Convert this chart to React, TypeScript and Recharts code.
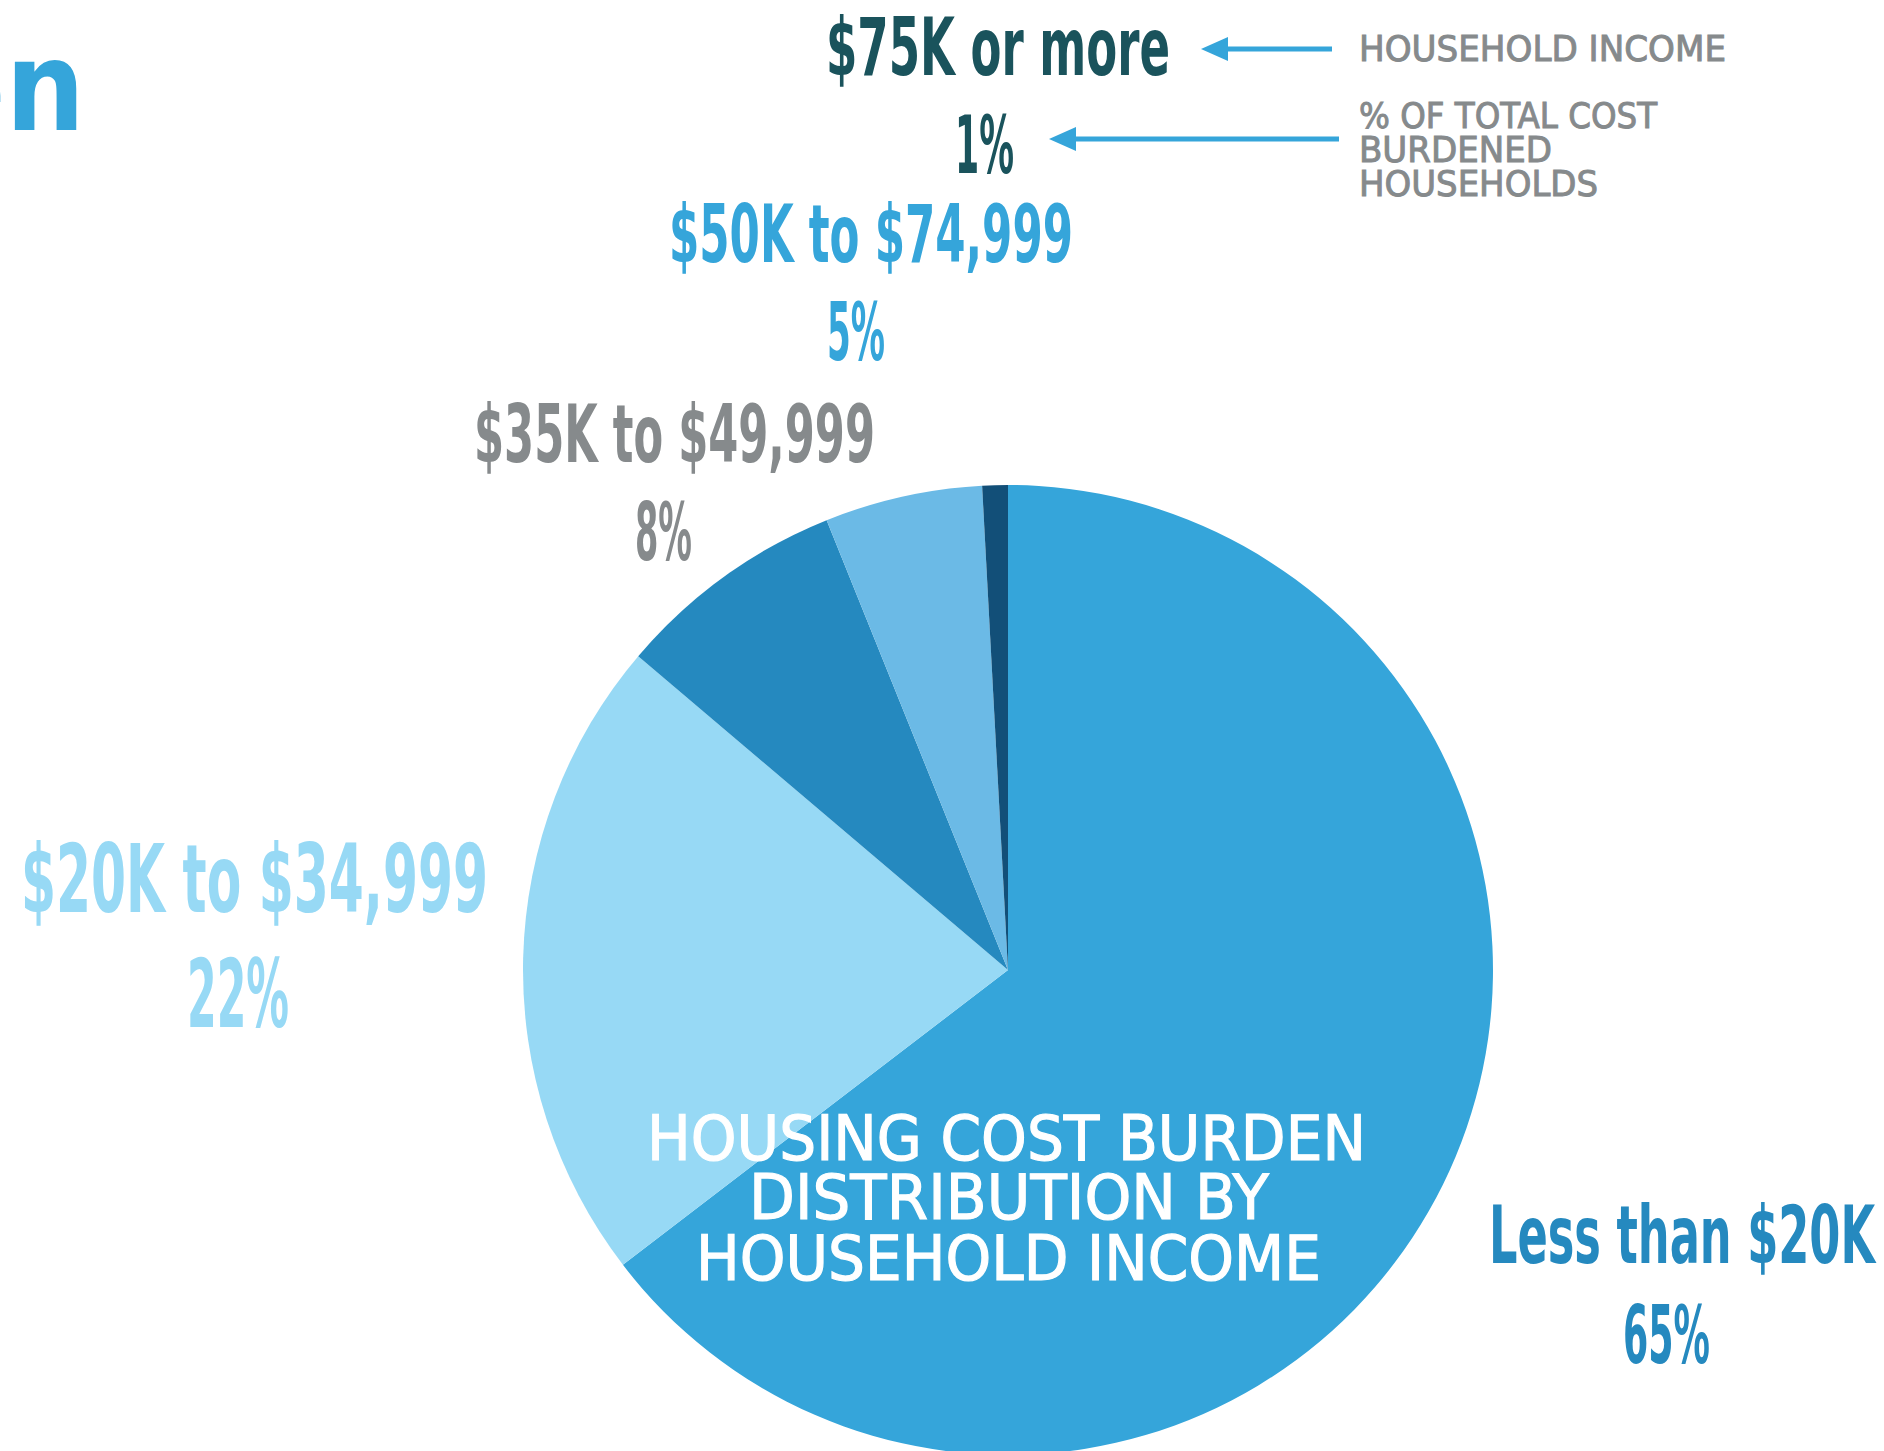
import React from 'react';
import { PieChart, Pie, Cell } from 'recharts';

// ---- data ----
const categories = ['Less than $20K', '$20K to $34,999', '$35K to $49,999', '$50K to $74,999', '$75K or more'];
const shares = [64.6, 21.6, 7.7, 5.25, 0.85];
const percentLabels = ['65%', '22%', '8%', '5%', '1%'];
const titleLines = ['HOUSING COST BURDEN', 'DISTRIBUTION BY', 'HOUSEHOLD INCOME'];
const legendIncome = ['HOUSEHOLD INCOME'];
const legendShare = ['% OF TOTAL COST', 'BURDENED', 'HOUSEHOLDS'];
const headingFragment = 'en';

// ---- styles ----
const sliceColors = ['#35A5DA', '#97D9F5', '#2589BF', '#6BBAE6', '#124F78'];
const labelColors = ['#2589BF', '#97D9F5', '#868A8C', '#35A5DA', '#1A535C'];
const GRAY = '#868A8C';
const ARROW = '#35A5DA';
const COND = '"DejaVu Sans Condensed", "DejaVu Sans", sans-serif';
const REG = '"DejaVu Sans", sans-serif';

// label placement per slice (left x, right x, baseline)
const labelLayout = [
  { name: [1489, 1875, 1263], pct: [1623, 1710, 1363], size: 80 },
  { name: [21, 488, 912], pct: [187, 289, 1027], size: 95 },
  { name: [474, 875, 462], pct: [635, 692, 560], size: 81 },
  { name: [669, 1073, 262], pct: [827, 885, 360], size: 81 },
  { name: [826, 1170, 75], pct: [955, 1014, 173], size: 80 },
];

const data = categories.map((name, i) => ({ name, value: shares[i], pct: percentLabels[i] }));

const W = 1884;
const H = 1451;
const CX = 1008;
const CY = 970;
const R = 485;

const renderLabel = (props: any) => {
  const i = props.index;
  const lay = labelLayout[i];
  const color = labelColors[i];
  return (
    <g key={`lbl-${i}`}>
      <text
        x={lay.name[0]}
        y={lay.name[2]}
        fill={color}
        fontFamily={COND}
        fontWeight="bold"
        fontSize={lay.size}
        textLength={lay.name[1] - lay.name[0]}
        lengthAdjust="spacingAndGlyphs"
      >
        {data[i].name}
      </text>
      <text
        x={lay.pct[0]}
        y={lay.pct[2]}
        fill={color}
        fontFamily={COND}
        fontWeight="bold"
        fontSize={lay.size}
        textLength={lay.pct[1] - lay.pct[0]}
        lengthAdjust="spacingAndGlyphs"
      >
        {data[i].pct}
      </text>
    </g>
  );
};

const Arrow = ({ tipX, endX, y }: { tipX: number; endX: number; y: number }) => (
  <g>
    <line x1={tipX + 20} y1={y} x2={endX} y2={y} stroke={ARROW} strokeWidth={5} />
    <polygon points={`${tipX},${y} ${tipX + 27},${y - 12} ${tipX + 27},${y + 12}`} fill={ARROW} />
  </g>
);

const titleLayout = [
  [647, 1366, 1160],
  [749, 1269, 1219],
  [696, 1321, 1280],
];
const shareLayout = [
  [1359, 1657, 128],
  [1359, 1552, 162],
  [1359, 1598, 196],
];

export default function App() {
  return (
    <div style={{ position: 'absolute', left: 0, top: 0, width: W, height: H, background: '#fff', overflow: 'hidden' }}>
      <PieChart width={W} height={H} margin={{ top: 0, right: 0, bottom: 0, left: 0 }}>
        <Pie
          data={data}
          dataKey="value"
          nameKey="name"
          cx={CX}
          cy={CY}
          outerRadius={R}
          innerRadius={0}
          startAngle={90}
          endAngle={-270}
          stroke="none"
          isAnimationActive={false}
          labelLine={false}
          label={renderLabel}
        >
          {data.map((d, i) => (
            <Cell key={d.name} fill={sliceColors[i]} stroke="none" />
          ))}
        </Pie>
      </PieChart>
      <svg width={W} height={H} style={{ position: 'absolute', left: 0, top: 0, pointerEvents: 'none' }}>
        <text x={85} y={130} textAnchor="end" fill="#35A5DA" fontFamily={COND} fontWeight="bold" fontSize={124}>
          {headingFragment}
        </text>
        <Arrow tipX={1201} endX={1332} y={49} />
        <Arrow tipX={1049} endX={1339} y={139} />
        <text x={1359} y={61} fill={GRAY} stroke={GRAY} strokeWidth={1} fontFamily={REG} fontSize={35} textLength={367} lengthAdjust="spacingAndGlyphs">
          {legendIncome[0]}
        </text>
        {legendShare.map((t, i) => (
          <text
            key={t}
            x={shareLayout[i][0]}
            y={shareLayout[i][2]}
            fill={GRAY}
            stroke={GRAY}
            strokeWidth={1}
            fontFamily={REG}
            fontSize={35}
            textLength={shareLayout[i][1] - shareLayout[i][0]}
            lengthAdjust="spacingAndGlyphs"
          >
            {t}
          </text>
        ))}
        {titleLines.map((t, i) => (
          <text
            key={t}
            x={titleLayout[i][0]}
            y={titleLayout[i][2]}
            fill="#FFFFFF"
            stroke="#FFFFFF"
            strokeWidth={1.2}
            fontFamily={REG}
            fontSize={63}
            textLength={titleLayout[i][1] - titleLayout[i][0]}
            lengthAdjust="spacingAndGlyphs"
          >
            {t}
          </text>
        ))}
      </svg>
    </div>
  );
}
